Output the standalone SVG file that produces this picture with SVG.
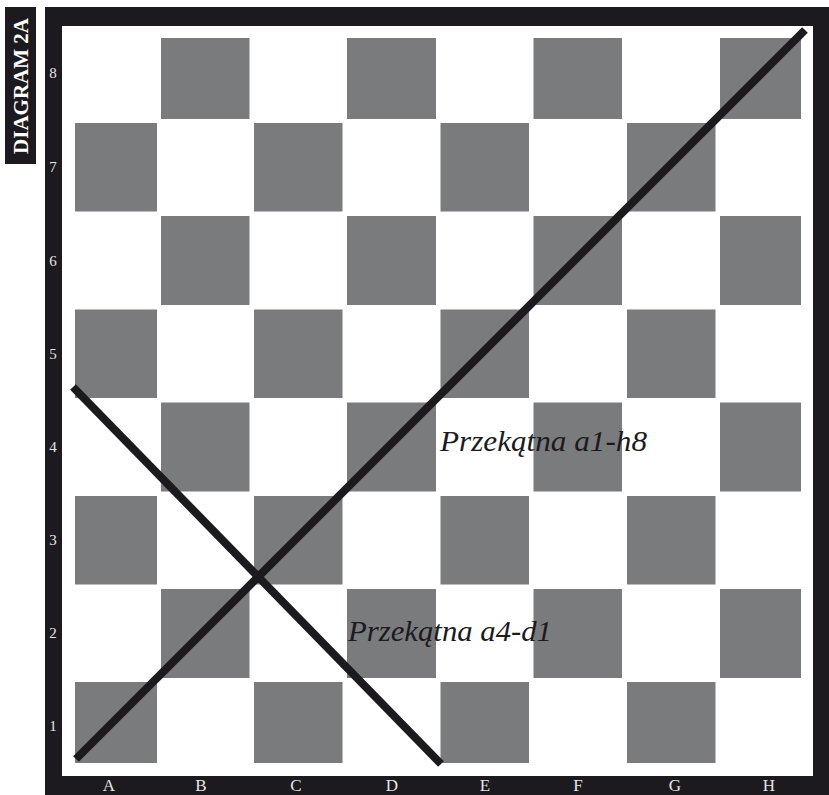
<svg xmlns="http://www.w3.org/2000/svg" width="829" height="795" viewBox="0 0 829 795">
<style>
.sq{fill:#7a7b7d}
.fr{fill:#1c1a1e}
.lbl{font-family:"Liberation Serif","DejaVu Serif",serif;fill:#e6e6e6;font-size:15px;text-anchor:middle}
.fl{font-size:17px}
.diag{stroke:#1c1a1e;stroke-width:8;stroke-linecap:butt;fill:none}
.cap{font-family:"Liberation Serif","DejaVu Serif",serif;font-style:italic;font-size:30px;fill:#1c1a1e}
</style>
<rect width="829" height="795" fill="#ffffff"/>
<g id="title">
<rect x="5" y="7" width="31" height="157" class="fr"/>
<text transform="translate(28,86) rotate(-90)" text-anchor="middle" font-family="Liberation Serif, DejaVu Serif, serif" font-weight="bold" font-size="21" fill="#ffffff">DIAGRAM 2A</text>
</g>
<g id="frame">
<rect x="45" y="7" width="784" height="788" class="fr"/>
<rect x="62" y="26" width="751" height="750" fill="#ffffff"/>
</g>
<g id="squares">
<rect class="sq" x="161" y="38" width="88.5" height="81"/>
<rect class="sq" x="347" y="38" width="89" height="81"/>
<rect class="sq" x="533.5" y="38" width="88.5" height="81"/>
<rect class="sq" x="720" y="38" width="81" height="81"/>
<rect class="sq" x="75" y="123" width="82" height="88.5"/>
<rect class="sq" x="254" y="123" width="88.5" height="88.5"/>
<rect class="sq" x="440.5" y="123" width="88.5" height="88.5"/>
<rect class="sq" x="627" y="123" width="88.5" height="88.5"/>
<rect class="sq" x="161" y="216" width="88.5" height="89"/>
<rect class="sq" x="347" y="216" width="89" height="89"/>
<rect class="sq" x="533.5" y="216" width="88.5" height="89"/>
<rect class="sq" x="720" y="216" width="81" height="89"/>
<rect class="sq" x="75" y="309.5" width="82" height="88.5"/>
<rect class="sq" x="254" y="309.5" width="88.5" height="88.5"/>
<rect class="sq" x="440.5" y="309.5" width="88.5" height="88.5"/>
<rect class="sq" x="627" y="309.5" width="88.5" height="88.5"/>
<rect class="sq" x="161" y="402.5" width="88.5" height="89"/>
<rect class="sq" x="347" y="402.5" width="89" height="89"/>
<rect class="sq" x="533.5" y="402.5" width="88.5" height="89"/>
<rect class="sq" x="720" y="402.5" width="81" height="89"/>
<rect class="sq" x="75" y="496" width="82" height="88.5"/>
<rect class="sq" x="254" y="496" width="88.5" height="88.5"/>
<rect class="sq" x="440.5" y="496" width="88.5" height="88.5"/>
<rect class="sq" x="627" y="496" width="88.5" height="88.5"/>
<rect class="sq" x="161" y="589" width="88.5" height="89"/>
<rect class="sq" x="347" y="589" width="89" height="89"/>
<rect class="sq" x="533.5" y="589" width="88.5" height="89"/>
<rect class="sq" x="720" y="589" width="81" height="89"/>
<rect class="sq" x="75" y="682" width="82" height="81"/>
<rect class="sq" x="254" y="682" width="88.5" height="81"/>
<rect class="sq" x="440.5" y="682" width="88.5" height="81"/>
<rect class="sq" x="627" y="682" width="88.5" height="81"/>
</g>
<g id="ranks">
<text class="lbl" x="53" y="78">8</text>
<text class="lbl" x="53" y="172">7</text>
<text class="lbl" x="53" y="266">6</text>
<text class="lbl" x="53" y="359">5</text>
<text class="lbl" x="53" y="452">4</text>
<text class="lbl" x="53" y="545">3</text>
<text class="lbl" x="53" y="638">2</text>
<text class="lbl" x="53" y="731">1</text>
</g>
<g id="files">
<text class="lbl fl" x="109" y="791">A</text>
<text class="lbl fl" x="201" y="791">B</text>
<text class="lbl fl" x="296" y="791">C</text>
<text class="lbl fl" x="392" y="791">D</text>
<text class="lbl fl" x="485" y="791">E</text>
<text class="lbl fl" x="578" y="791">F</text>
<text class="lbl fl" x="675" y="791">G</text>
<text class="lbl fl" x="769" y="791">H</text>
</g>
<g id="connectors">
<line class="diag" x1="76" y1="759" x2="805" y2="30"/>
<line class="diag" x1="73" y1="387" x2="441" y2="764"/>
</g>
<g id="captions">
<text class="cap" x="440" y="451" textLength="207" lengthAdjust="spacingAndGlyphs">Przekątna a1-h8</text>
<text class="cap" x="348" y="641" textLength="204" lengthAdjust="spacingAndGlyphs">Przekątna a4-d1</text>
</g>
</svg>
